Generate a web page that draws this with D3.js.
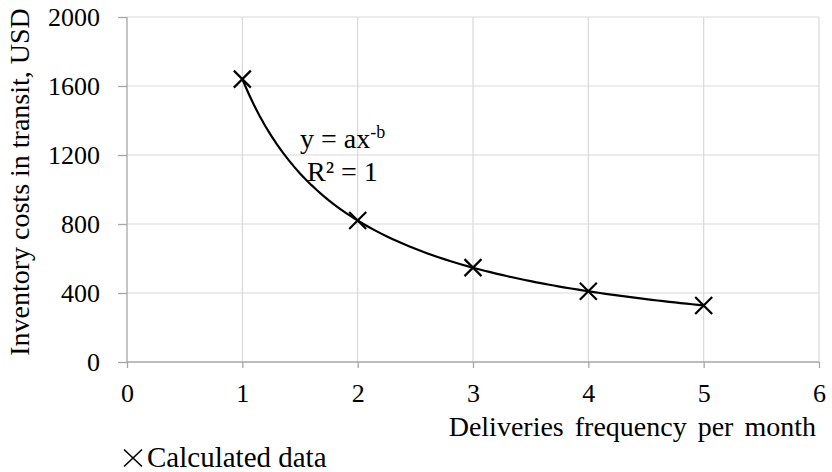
<!DOCTYPE html>
<html>
<head>
<meta charset="utf-8">
<script src="https://cdn.jsdelivr.net/npm/d3@7"></script>
<style>
  body { margin: 0; background: #fff; }
  text { font-family: "Liberation Serif", "Times New Roman", serif; fill: #000; }
</style>
</head>
<body>
<script>
// data
var frequency = [1, 2, 3, 4, 5];
var costs = [1640, 820, 547, 410, 328];
var xTicks = [0, 1, 2, 3, 4, 5, 6];
var yTicks = [0, 400, 800, 1200, 1600, 2000];

var width = 832, height = 472;
var plotLeft = 127, plotRight = 819, plotTop = 17, plotBottom = 362;

var svg = d3.select("body").append("svg")
  .attr("width", width)
  .attr("height", height);

var x = d3.scaleLinear().domain([0, 6]).range([plotLeft, plotRight]);
var y = d3.scaleLinear().domain([0, 2000]).range([plotBottom, plotTop]);

// grid
svg.selectAll("line.gx").data(xTicks.slice(1)).enter().append("line")
  .attr("x1", function (d) { return x(d); })
  .attr("x2", function (d) { return x(d); })
  .attr("y1", plotTop).attr("y2", plotBottom)
  .style("stroke", "#d9d9d9").style("stroke-width", 1.2);
svg.selectAll("line.gy").data(yTicks.slice(1)).enter().append("line")
  .attr("x1", plotLeft).attr("x2", plotRight)
  .attr("y1", function (d) { return y(d); })
  .attr("y2", function (d) { return y(d); })
  .style("stroke", "#d9d9d9").style("stroke-width", 1.2);

// axes
var xAxis = svg.append("g")
  .attr("transform", "translate(0," + plotBottom + ")")
  .call(d3.axisBottom(x).tickValues(xTicks).tickSize(6).tickFormat(d3.format("d")));
var yAxis = svg.append("g")
  .attr("transform", "translate(" + plotLeft + ",0)")
  .call(d3.axisLeft(y).tickValues(yTicks).tickSize(9).tickPadding(18).tickFormat(d3.format("d")));

[xAxis, yAxis].forEach(function (g) {
  g.select(".domain").style("stroke", "#a6a6a6").style("stroke-width", 1.3);
  g.selectAll(".tick line").style("stroke", "#a6a6a6").style("stroke-width", 1.3);
  g.selectAll("text").style("font-family", "Liberation Serif").style("font-size", "26px").style("fill", "#000");
});
xAxis.selectAll(".tick text").attr("y", 40).attr("dy", 0);
xAxis.select(".domain").attr("d", "M" + plotLeft + ",0H" + plotRight);
yAxis.select(".domain").attr("d", "M0," + plotTop + "V" + plotBottom);

// power trend line fitted from the points (log-log least squares)
var lx = frequency.map(Math.log), ly = costs.map(Math.log);
var mx = d3.mean(lx), my = d3.mean(ly);
var b = d3.sum(lx, function (v, i) { return (v - mx) * (ly[i] - my); }) / d3.sum(lx, function (v) { return (v - mx) * (v - mx); });
var a = Math.exp(my - b * mx);
var curve = d3.range(1, 5.001, 0.05).map(function (t) { return [t, a * Math.pow(t, b)]; });

svg.append("path")
  .datum(curve)
  .attr("d", d3.line().x(function (d) { return x(d[0]); }).y(function (d) { return y(d[1]); }))
  .style("fill", "none").style("stroke", "#000").style("stroke-width", 2.2);

// markers
var s = 8.5;
var marks = svg.selectAll("g.mark").data(frequency).enter().append("g")
  .attr("transform", function (d, i) { return "translate(" + x(d) + "," + y(costs[i]) + ")"; });
marks.append("path")
  .attr("d", "M" + (-s) + "," + (-s) + "L" + s + "," + s + "M" + (-s) + "," + s + "L" + s + "," + (-s))
  .style("stroke", "#000").style("stroke-width", 2.2);

// equation label
var eq = svg.append("text").attr("x", 300).attr("y", 148).style("font-size", "28px");
eq.append("tspan").text("y = ax");
eq.append("tspan").attr("dy", -10).style("font-size", "18px").text("-b");
svg.append("text").attr("x", 307).attr("y", 181).style("font-size", "28px").text("R² = 1");

// axis titles
svg.append("text")
  .attr("x", 816).attr("y", 436)
  .attr("text-anchor", "end")
  .style("font-size", "28px")
  .style("word-spacing", "4px")
  .text("Deliveries frequency per month");
svg.append("text")
  .attr("transform", "translate(29,182) rotate(-90)")
  .attr("text-anchor", "middle")
  .style("font-size", "28px")
  .text("Inventory costs in transit, USD");

// legend
var lg = svg.append("g").attr("transform", "translate(133,458)");
lg.append("path")
  .attr("d", "M-9,-8.5L9,8.5M-9,8.5L9,-8.5")
  .style("stroke", "#000").style("stroke-width", 1.6);
lg.append("text").attr("x", 14).attr("y", 8.5).style("font-size", "29px").text("Calculated data");
</script>
</body>
</html>
